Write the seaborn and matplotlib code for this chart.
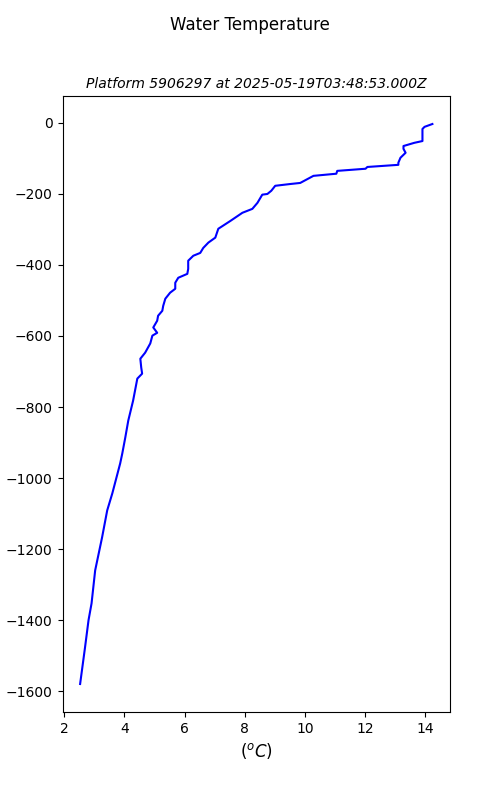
import matplotlib
matplotlib.use("Agg")
import matplotlib.pyplot as plt
import seaborn as sns
import pandas as pd

# profile (temperature in degC, depth in m)
temperature = [14.23, 13.97, 13.90, 13.90, 13.63, 13.27, 13.27, 13.34, 13.17, 13.10,
               13.10, 12.07, 12.01, 11.07, 11.04, 10.28, 9.84, 9.51, 9.01, 8.88,
               8.75, 8.58, 8.42, 8.25, 7.92, 7.52, 7.12, 7.02, 6.79, 6.62,
               6.52, 6.29, 6.12, 6.12, 6.09, 5.79, 5.69, 5.69, 5.52, 5.36,
               5.29, 5.26, 5.12, 5.09, 4.96, 5.09, 4.93, 4.86, 4.69, 4.53,
               4.56, 4.59, 4.43, 4.29, 4.13, 4.03, 3.93, 3.86, 3.60, 3.43,
               3.26, 3.03, 2.91, 2.81, 2.69, 2.53]
depth = [-3, -11, -17, -51, -56, -65, -73, -84, -98, -112,
         -118, -124, -129, -135, -143, -149, -169, -172, -177, -191,
         -200, -202, -225, -242, -253, -276, -298, -323, -337, -352,
         -366, -374, -388, -411, -425, -436, -450, -467, -478, -495,
         -515, -529, -543, -557, -576, -591, -599, -621, -647, -664,
         -689, -706, -720, -782, -838, -886, -931, -959, -1043, -1091,
         -1167, -1260, -1353, -1400, -1479, -1580]

platform = "5906297"
timestamp = "2025-05-19T03:48:53.000Z"

df = pd.DataFrame({"temp": temperature, "depth": depth})

fig, ax = plt.subplots(figsize=(5, 8), dpi=100)
sns.lineplot(data=df, x="temp", y="depth", sort=False, estimator=None,
             color="blue", linewidth=1.5, ax=ax)

fig.suptitle("Water Temperature", fontsize=12)
ax.set_title(f"Platform {platform} at {timestamp}", fontsize=10, style="italic")
ax.set_xlabel(r"$(^oC)$", fontsize=12)
ax.set_ylabel("depth (m)")

fig.savefig("out.png", dpi=100)
